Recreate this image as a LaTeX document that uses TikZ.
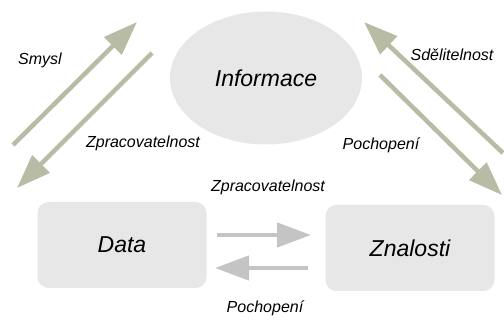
\documentclass[tikz,border=0pt]{standalone}
\usepackage{fontspec}
\setmainfont{Liberation Sans}
\usetikzlibrary{arrows.meta,shapes.geometric}
\definecolor{olivearr}{RGB}{185,188,165}
\definecolor{grayarr}{RGB}{196,196,196}
\definecolor{boxfill}{RGB}{231,231,231}
\tikzset{
  bigarrow/.style={line width=4.5pt,-{Triangle[length=34pt,width=24pt]}},
  diagarrow/.style={bigarrow,draw=olivearr},
  horarrow/.style={bigarrow,draw=grayarr},
  conceptbox/.style={draw=none,fill=boxfill,rounded corners=11pt,minimum width=169pt,minimum height=86pt,font=\fontsize{23}{26}\selectfont\itshape},
  conceptell/.style={ellipse,draw=none,fill=boxfill,minimum width=192pt,minimum height=133pt,font=\fontsize{23}{26}\selectfont\itshape},
  lbl/.style={font=\fontsize{16}{18}\selectfont\itshape,inner sep=0pt}
}
\begin{document}
\begin{tikzpicture}[x=1pt,y=-1pt]
\useasboundingbox (0,0) rectangle (504,320);
\fill[white] (0,0) rectangle (504,320);
\node[conceptell] (inf) at (266,78) {Informace};
\node[conceptbox] (data) at (122,245) {Data};
\node[conceptbox] (zna) at (410,248) {Znalosti};
% diagonal arrow ends
\coordinate (a1s) at (13,145); \coordinate (a1e) at (137,22);
\coordinate (a2s) at (152,53); \coordinate (a2e) at (17,188);
\coordinate (a3s) at (503,153); \coordinate (a3e) at (364,22);
\coordinate (a4s) at (380,75); \coordinate (a4e) at (502,195);
\draw[diagarrow] (a1s) -- (a1e);
\draw[diagarrow] (a2s) -- (a2e);
\draw[diagarrow] (a3s) -- (a3e);
\draw[diagarrow] (a4s) -- (a4e);
% horizontal arrows
\coordinate (h1s) at (217,235); \coordinate (h1e) at (311,235);
\coordinate (h2s) at (308,268); \coordinate (h2e) at (215,268);
\draw[horarrow] (h1s) -- (h1e);
\draw[horarrow] (h2s) -- (h2e);
% labels
\node[lbl] (l1) at (40,60) {Smysl};
\node[lbl] (l2) at (143,143) {Zpracovatelnost};
\node[lbl] (l3) at (452,55) {Sdělitelnost};
\node[lbl] (l4) at (381,145) {Pochopení};
\node[lbl] (l5) at (268,187) {Zpracovatelnost};
\node[lbl] (l6) at (265,308) {Pochopení};
\end{tikzpicture}
\end{document}
